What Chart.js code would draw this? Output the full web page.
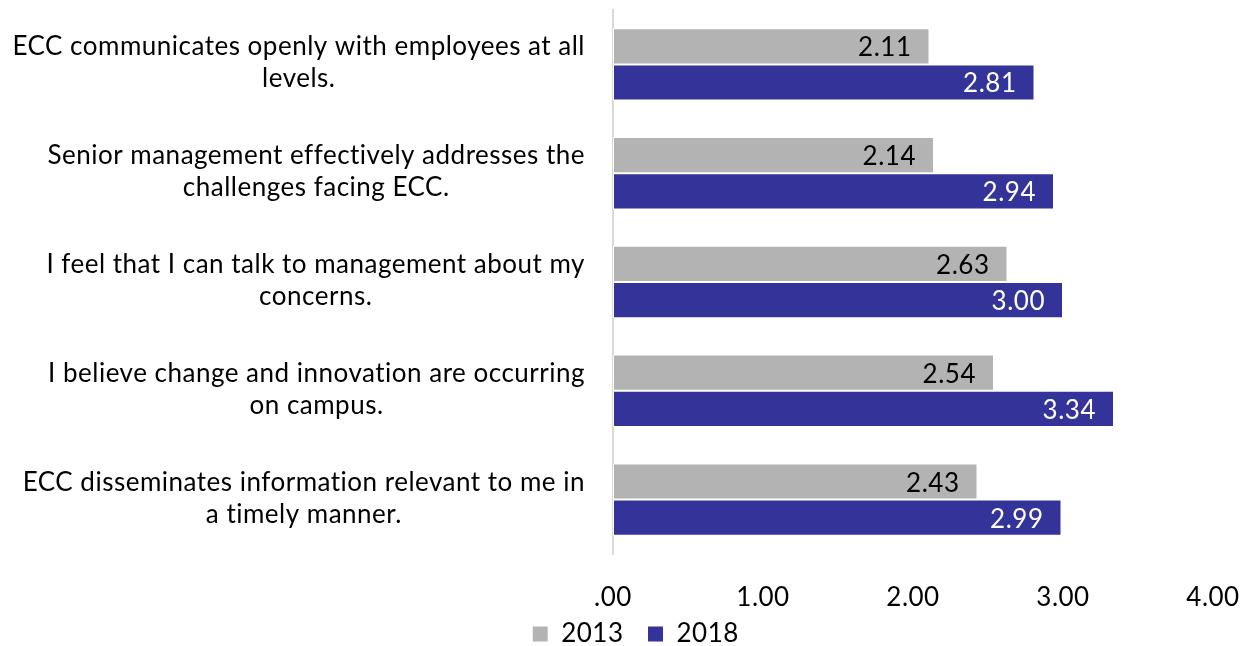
<!DOCTYPE html>
<html>
<head>
<meta charset="utf-8">
<script src="https://cdn.jsdelivr.net/npm/chart.js@4/dist/chart.umd.min.js"></script>
<style>
html,body{margin:0;padding:0;background:#fff;}
#wrap{width:1250px;height:646px;position:relative;}
</style>
</head>
<body>
<div id="wrap"><canvas id="c" width="1250" height="646"></canvas></div>
<script>
const categories = [
  ["ECC communicates openly with employees at all", "levels."],
  ["Senior management effectively addresses the", "challenges facing ECC."],
  ["I feel that I can talk to management about my", "concerns."],
  ["I believe change and innovation are occurring", "on campus."],
  ["ECC disseminates information relevant to me in", "a timely manner."]
];
const values2013 = [2.11, 2.14, 2.63, 2.54, 2.43];
const values2018 = [2.81, 2.94, 3.00, 3.34, 2.99];
const seriesNames = ["2013", "2018"];
const xTicks = [0, 1, 2, 3, 4];

const FONT = "Lato, 'Open Sans', sans-serif";
const FS = 26;
const SPACING = '0.5px';

const setupPlugin = {
  id: 'setup',
  beforeUpdate(chart) {
    const lg = chart.legend;
    if (lg && !lg._patched) {
      const orig = lg.fit;
      lg.fit = function () { orig.call(this); this.height = 25; };
      lg._patched = true;
    }
    chart.ctx.letterSpacing = SPACING;
  },
  beforeLayout(chart) { chart.ctx.letterSpacing = SPACING; },
  afterLayout(chart) {
    const lg = chart.legend;
    if (lg) { lg.top = 597; lg.bottom = 646; lg.height = 49; }
  },
  beforeDraw(chart) { chart.ctx.letterSpacing = SPACING; }
};

const labelPlugin = {
  id: 'customLabels',
  afterDatasetsDraw(chart) {
    const ctx = chart.ctx;
    const yScale = chart.scales.y;
    const area = chart.chartArea;
    ctx.save();
    ctx.letterSpacing = SPACING;
    ctx.font = FS + "px " + FONT;
    ctx.fillStyle = '#000';
    ctx.textBaseline = 'alphabetic';
    ctx.textAlign = 'center';
    const lineH = 32;
    const right = area.left - 28;
    categories.forEach((lines, i) => {
      const cy = yScale.getPixelForTick(i);
      const w = Math.max(...lines.map(l => ctx.measureText(l).width));
      const cx = right - w / 2;
      lines.forEach((l, j) => {
        const y = cy + (j - (lines.length - 1) / 2) * lineH + 7;
        ctx.fillText(l, cx, y);
      });
    });
    ctx.textAlign = 'right';
    chart.data.datasets.forEach((ds, di) => {
      const meta = chart.getDatasetMeta(di);
      meta.data.forEach((bar, i) => {
        ctx.fillStyle = di === 0 ? '#000' : '#fff';
        ctx.fillText(ds.data[i].toFixed(2), bar.x - 18, bar.y + 10);
      });
    });
    ctx.restore();
  }
};

new Chart(document.getElementById('c'), {
  type: 'bar',
  data: {
    labels: categories,
    datasets: [
      { label: seriesNames[0], data: values2013, backgroundColor: '#b3b3b3', borderColor: '#ffffff', borderWidth: 1, borderSkipped: false },
      { label: seriesNames[1], data: values2018, backgroundColor: '#333399', borderColor: '#ffffff', borderWidth: 1, borderSkipped: false }
    ]
  },
  options: {
    indexAxis: 'y',
    responsive: false,
    animation: false,
    layout: { padding: { top: 10, right: 37, left: 58, bottom: 0 } },
    datasets: { bar: { categoryPercentage: 0.665, barPercentage: 1.0 } },
    scales: {
      x: {
        min: 0, max: 4,
        afterBuildTicks(scale) { scale.ticks = xTicks.map(v => ({ value: v })); },
        afterFit(scale) { scale.height = 67; scale.paddingLeft = 0; scale.paddingRight = 0; },
        grid: { display: false, drawTicks: false },
        border: { display: false },
        ticks: {
          font: { family: FONT, size: FS },
          color: '#000',
          padding: 28,
          maxRotation: 0,
          callback(v) { const s = Number(v).toFixed(2); return s.startsWith('0') ? s.slice(1) : s; }
        }
      },
      y: {
        grid: { display: false, drawTicks: false },
        border: { display: true, color: '#d9d9d9', width: 2 },
        ticks: { display: false },
        afterFit(scale) { scale.width = 555; }
      }
    },
    plugins: {
      legend: {
        position: 'bottom',
        labels: {
          font: { family: FONT, size: FS },
          color: '#000',
          boxWidth: 16, boxHeight: 16,
          padding: 24,
          useBorderRadius: false
        }
      },
      tooltip: { enabled: false }
    }
  },
  plugins: [setupPlugin, labelPlugin]
});
</script>
</body>
</html>
